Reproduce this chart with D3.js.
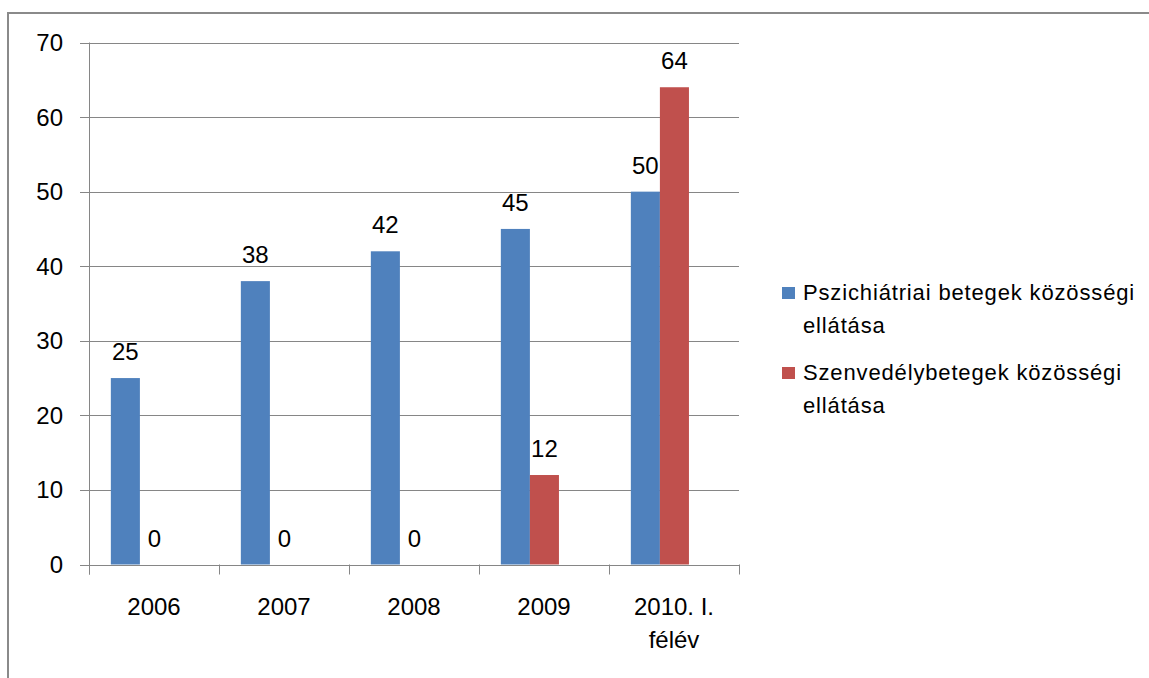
<!DOCTYPE html>
<html><head><meta charset="utf-8">
<script src="https://cdn.jsdelivr.net/npm/d3@7"></script>
<style>body{margin:0;background:#fff;}svg{display:block;}</style>
</head><body>
<svg id="c" width="1149" height="678"></svg>
<script>
const categories = [["2006"],["2007"],["2008"],["2009"],["2010. I.","félév"]];
const seriesNames = ["Pszichiátriai betegek közösségi ellátása","Szenvedélybetegek közösségi ellátása"];
const legendLines = [["Pszichiátriai betegek közösségi","ellátása"],["Szenvedélybetegek közösségi","ellátása"]];
const psychValues = [25,38,42,45,50];
const addictValues = [0,0,0,12,64];
const yTicks = [0,10,20,30,40,50,60,70];
const colors = ["#4F81BD","#C0504D"];

(function(){
const svg = d3.select("#c");
const font = "Liberation Sans, Arial, sans-serif";
const gray = "#868686";

svg.append("path").attr("d","M8,678 L8,13 L1149,13").attr("fill","none").attr("stroke","#8a8a8a").attr("stroke-width",2);

const pL=89, pR=739, pT=42.5, pB=564.5;
const catKeys = categories.map(c=>c.join(" "));
const x0 = d3.scaleBand().domain(catKeys).range([pL,pR]).padding(0);
const bw = x0.bandwidth();
const x1 = d3.scaleBand().domain(["a","b"]).range([bw*0.168, bw*0.615]).padding(0);
const y = d3.scaleLinear().domain([0,70]).range([pB,pT]);

const g = svg.append("g");
g.selectAll(".grid").data(yTicks).enter().append("line")
  .attr("x1",80).attr("x2",pR).attr("y1",d=>Math.round(y(d))+0.5).attr("y2",d=>Math.round(y(d))+0.5)
  .attr("stroke",gray).attr("stroke-width",1);
g.append("line").attr("x1",pL+0.5).attr("x2",pL+0.5).attr("y1",pT).attr("y2",pB+10).attr("stroke",gray);
const tickXs = catKeys.map(k=>x0(k)).concat([pR]);
g.selectAll(".ct").data(tickXs).enter().append("line")
  .attr("x1",d=>Math.round(d)+0.5).attr("x2",d=>Math.round(d)+0.5).attr("y1",pB).attr("y2",pB+10).attr("stroke",gray);
g.selectAll(".yl").data(yTicks).enter().append("text")
  .attr("x",63).attr("y",d=>y(d)+8.5).attr("text-anchor","end")
  .attr("font-family",font).attr("font-size",24).attr("fill","#000").text(d=>d);

const data = catKeys.map((k,i)=>({k, vals:[{s:"a",v:psychValues[i]},{s:"b",v:addictValues[i]}]}));
const grp = g.selectAll(".cat").data(data).enter().append("g").attr("transform",d=>`translate(${x0(d.k)},0)`);
grp.selectAll("rect").data(d=>d.vals).enter().append("rect")
  .attr("x",d=>x1(d.s)).attr("width",x1.bandwidth())
  .attr("y",d=>y(d.v)).attr("height",d=>pB-y(d.v))
  .attr("fill",(d,i)=>colors[i]);
grp.selectAll(".lbl").data(d=>d.vals).enter().append("text")
  .attr("x",d=>x1(d.s)+x1.bandwidth()/2).attr("y",d=>y(d.v)-18)
  .attr("text-anchor","middle").attr("font-family",font).attr("font-size",24).text(d=>d.v);

categories.forEach((c,i)=>{
  c.forEach((line,j)=>{
    g.append("text").attr("x",x0(catKeys[i])+bw/2).attr("y",615+j*33)
      .attr("text-anchor","middle").attr("font-family",font).attr("font-size",24).text(line);
  });
});

const lg = svg.append("g");
legendLines.forEach((lines,i)=>{
  const by = 287 + i*80;
  lg.append("rect").attr("x",782).attr("y",by).attr("width",13).attr("height",12).attr("fill",colors[i]);
  lines.forEach((t,j)=>{
    lg.append("text").attr("x",803).attr("y",by+13+j*33).attr("font-family",font).attr("font-size",22)
      .attr("letter-spacing",0.85).text(t);
  });
});
})();
</script>
</body></html>
